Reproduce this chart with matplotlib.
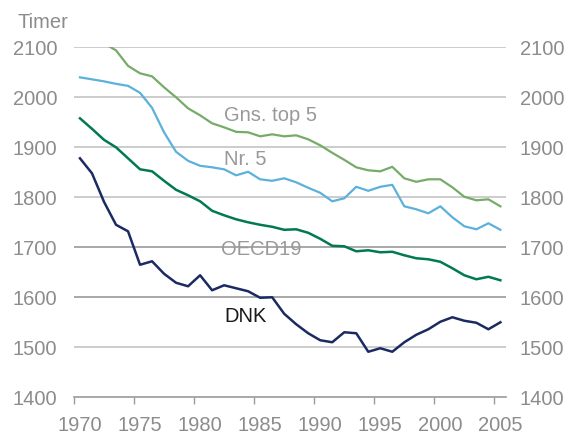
import numpy as np
import matplotlib
matplotlib.use('Agg')
from matplotlib import pyplot as plt
from matplotlib.ticker import FixedLocator

plt.rcParams['font.family'] = ['Liberation Sans', 'DejaVu Sans']

years = list(range(1970, 2006))

# Gns. top 5 (de tre første år ligger over 2100 og klippes)
gns_top5 = [2140, 2125, 2107, 2093, 2062, 2047, 2041, 2019, 1999, 1977,
            1963, 1947, 1939, 1930, 1929, 1921, 1925, 1921, 1923, 1915,
            1903, 1888, 1874, 1859, 1853, 1851, 1860, 1837, 1830, 1835,
            1835, 1819, 1800, 1793, 1795, 1781]
nr5 = [2039, 2035, 2031, 2026, 2022, 2008, 1978, 1929, 1890, 1872,
       1862, 1859, 1855, 1843, 1850, 1835, 1832, 1837, 1829, 1818,
       1808, 1791, 1797, 1820, 1812, 1820, 1824, 1781, 1775, 1767,
       1781, 1759, 1741, 1735, 1747, 1734]
oecd19 = [1957, 1936, 1914, 1899, 1877, 1855, 1851, 1832, 1814, 1803,
          1791, 1772, 1763, 1755, 1749, 1744, 1740, 1734, 1735, 1728,
          1716, 1702, 1701, 1691, 1693, 1689, 1690, 1683, 1677, 1675,
          1670, 1657, 1643, 1635, 1640, 1633]
dnk = [1877, 1847, 1790, 1744, 1731, 1664, 1671, 1646, 1628, 1621,
       1643, 1613, 1623, 1617, 1611, 1598, 1599, 1566, 1545, 1527,
       1513, 1509, 1529, 1527, 1490, 1497, 1490, 1509, 1524, 1535,
       1550, 1559, 1552, 1548, 1535, 1549]

yticks = [1400, 1500, 1600, 1700, 1800, 1900, 2000, 2100]
xlabels = [1970, 1975, 1980, 1985, 1990, 1995, 2000, 2005]

grey = '#8c8c8c'
fs = 14.5

fig = plt.figure(figsize=(5.69, 4.39), dpi=100)
ax = fig.add_axes([0.130, 0.094, 0.760, 0.797])

for v in yticks[1:]:
    c = '#9a9a9a' if v in (1600, 1700) else '#c4c4c4'
    ax.axhline(v, color=c, lw=1.2, zorder=1)

ax.plot(years, gns_top5, color='#77ab69', lw=1.6, zorder=3)
ax.plot(years, nr5, color='#5bb1da', lw=1.6, zorder=3)
ax.plot(years, oecd19, color='#007a4e', lw=1.8, zorder=3)
ax.plot(years, dnk, color='#1c2a63', lw=1.8, zorder=3)

ax.text(1982.0, 1965, 'Gns. top 5', color='#999999', fontsize=fs, va='center', ha='left')
ax.text(1982.0, 1876, 'Nr. 5', color='#999999', fontsize=fs, va='center', ha='left')
ax.text(1981.7, 1697, 'OECD19', color='#999999', fontsize=fs, va='center', ha='left', zorder=4)
ax.text(1982.0, 1563, 'DNK', color='#1a1a1a', fontsize=fs, va='center', ha='left')

ax.set_xlim(1969.5, 2005.5)
ax.set_ylim(1400, 2100)

for s in ['top', 'right', 'left']:
    ax.spines[s].set_visible(False)
ax.spines['bottom'].set_color('#9a9a9a')
ax.spines['bottom'].set_linewidth(1.2)

ax.xaxis.set_major_locator(FixedLocator(xlabels))
ax.xaxis.set_minor_locator(FixedLocator([y - 0.5 for y in xlabels]))
ax.tick_params(axis='x', which='major', length=0, pad=13, labelsize=fs, labelcolor=grey)
ax.tick_params(axis='x', which='minor', length=5, width=1, color='#9a9a9a', direction='out')

ax.set_yticks(yticks)
ax.tick_params(axis='y', length=0, pad=12, labelsize=fs, labelcolor=grey)

# højre akse med samme tal
ax2 = ax.twinx()
ax2.set_ylim(ax.get_ylim())
ax2.set_yticks(yticks)
ax2.tick_params(axis='y', length=0, pad=9.5, labelsize=fs, labelcolor=grey)
for s in ax2.spines.values():
    s.set_visible(False)

fig.text(0.03, 0.949, 'Timer', color=grey, fontsize=fs, ha='left', va='center')

plt.savefig('out.png', dpi=100)
